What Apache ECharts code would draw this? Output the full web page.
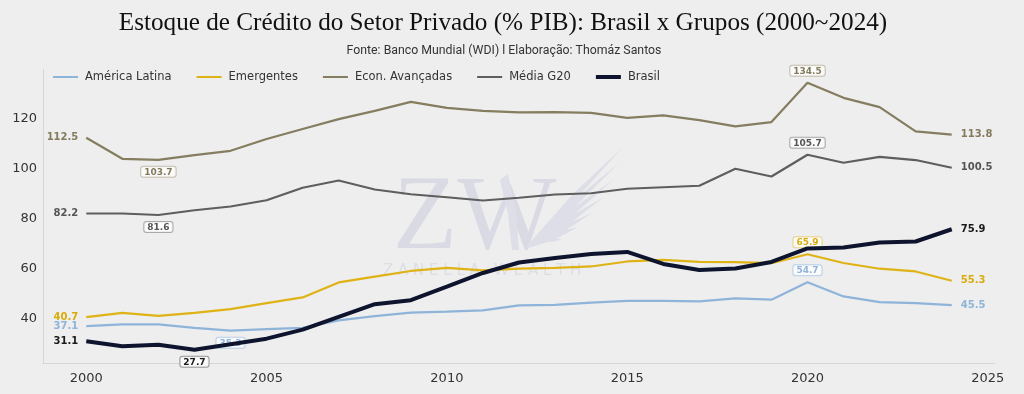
<!DOCTYPE html>
<html>
<head>
<meta charset="utf-8">
<script src="https://cdn.jsdelivr.net/npm/echarts@6/dist/echarts.min.js"></script>
<style>
html,body{margin:0;padding:0;background:#eeeeee;}
#c{width:1024px;height:394px;}
</style>
</head>
<body>
<div id="c"></div>
<script>
const years = [2000,2001,2002,2003,2004,2005,2006,2007,2008,2009,2010,2011,2012,2013,2014,2015,2016,2017,2018,2019,2020,2021,2022,2023,2024];
const americaLatina = [37.1,37.8,37.8,36.4,35.3,35.9,36.4,39.4,41.1,42.5,42.9,43.4,45.4,45.6,46.5,47.2,47.2,47.0,48.2,47.7,54.7,49.0,46.7,46.3,45.5];
const emergentes = [40.7,42.4,41.2,42.4,43.9,46.3,48.6,54.6,56.9,59.2,60.4,59.4,60.1,60.4,61.0,63.0,63.6,62.8,62.7,62.3,65.9,62.4,60.1,59.0,55.3];
const avancadas = [112.5,104.1,103.7,105.6,107.3,112.0,116.0,120.0,123.3,126.9,124.5,123.3,122.7,122.8,122.5,120.5,121.5,119.6,117.1,118.8,134.5,128.5,124.8,115.1,113.8];
const mediaG20 = [82.2,82.2,81.6,83.5,85.0,87.5,92.5,95.4,91.8,89.9,88.7,87.4,88.5,89.8,90.3,92.1,92.7,93.3,100.1,97.0,105.7,102.5,104.9,103.6,100.5];
const brasil = [31.1,29.1,29.7,27.7,29.9,32.1,35.7,40.8,45.9,47.5,52.9,58.4,62.6,64.4,66.0,66.8,62.0,59.6,60.2,62.8,68.2,68.6,70.6,71.0,75.9];
const seriesNames = ['América Latina','Emergentes','Econ. Avançadas','Média G20','Brasil'];
const xTicks = [2000,2005,2010,2015,2020,2025];
const yTicks = [40,60,80,100,120];

const colors = ['#8fb4d9','#dfb215','#857d5f','#5e5e5e','#0e142d'];
const labelColors = ['#8fb4d9','#d9ab0c','#847b5c','#555555','#1a1a1a'];
const boxBorders = ['#b9cfe6','#e8d28a','#c4bfae','#aaaaaa','#999999'];
const widths = [2.2,2.2,2.2,2.2,4];
const allData = [americaLatina, emergentes, avancadas, mediaG20, brasil];

const allVals = allData.flat();
const vMin = Math.min(...allVals), vMax = Math.max(...allVals);
const pad = (vMax - vMin) * 0.05;
const xPad = (years[years.length-1] - years[0]) * 0.05;

function buildData(vals, color, border) {
  let iMin = 0, iMax = 0;
  vals.forEach((v,i)=>{ if (v < vals[iMin]) iMin = i; if (v > vals[iMax]) iMax = i; });
  const last = vals.length - 1;
  return vals.map((v,i)=>{
    const item = { value: [years[i], v] };
    if (i === 0) {
      item.label = { show:true, position:'left', distance:8, formatter: v.toFixed(1),
        color: color, fontSize:10, fontWeight:'bold', fontFamily:'DejaVu Sans' };
    } else if (i === last) {
      item.label = { show:true, position:'right', distance:9, formatter: v.toFixed(1),
        color: color, fontSize:10, fontWeight:'bold', fontFamily:'DejaVu Sans' };
    } else if (i === iMin || i === iMax) {
      item.label = { show:true, position: i === iMax ? 'top' : 'bottom', distance:7,
        formatter: v.toFixed(1), color: color, fontSize:9, fontWeight:'bold', fontFamily:'DejaVu Sans',
        backgroundColor:'rgba(255,255,255,0.8)', borderColor: border, borderWidth:1,
        borderRadius:2, padding:[1,3,0,3] };
    } else {
      item.label = { show:false };
    }
    return item;
  });
}

// watermark wing: fan of thin feathers
const wingBase = [528, 246];
const wingTips = [[623,147],[619,163],[613,180],[604,197],[592,213],[578,227],[562,239]];
const wingPolys = wingTips.map((t,i)=>{
  const bx = wingBase[0] + i*3, by = wingBase[1] - i*1;
  return [[bx-2,by+1],[ (bx+t[0])/2 - 3, (by+t[1])/2 - 2 ], t, [ (bx+t[0])/2 + 1, (by+t[1])/2 + 2 ], [bx+2,by+2]];
});
wingPolys.push([[500,180],[508,174],[516,212],[519,250],[512,250],[508,214]]);

const chart = echarts.init(document.getElementById('c'), null, {renderer:'canvas'});
chart.setOption({
  backgroundColor:'#eeeeee',
  animation:false,
  title:[
    { text:'Estoque de Crédito do Setor Privado (% PIB): Brasil x Grupos (2000~2024)',
      left:498, top:6, textAlign:'center',
      textStyle:{ fontFamily:'Liberation Serif', fontSize:25.2, fontWeight:'normal', color:'#111111' } },
    { text:'Fonte: Banco Mundial (WDI) l Elaboração: Thomáz Santos',
      left:499, top:40, textAlign:'center',
      textStyle:{ fontFamily:'Liberation Sans Narrow, Roboto', fontSize:12.3, fontWeight:'normal', color:'#333333' } }
  ],
  graphic:[
    { type:'text', left:393, top:168, z:-1, silent:true,
      style:{ text:'ZW', font:'105px "Liberation Serif"', fill:'#d9dae3' } }
  ].concat(wingPolys.map(p=>({ type:'polygon', z:-1, silent:true,
      shape:{ points:p }, style:{ fill:'#dddee7' } })))
   .concat([{ type:'text', left:383, top:264, z:-1, silent:true,
      style:{ text:'Z A N E L L A   W E A L T H', font:'15px "DejaVu Sans"', fill:'#dcdde5' } }]),
  legend:{
    data: seriesNames.map((n,k)=>({ name:n,
      icon: k === 4 ? 'path://M0,0H25V4H0Z' : 'path://M0,0H25V2H0Z' })),
    left:48, top:66, itemWidth:25, itemHeight:14, itemGap:25,
    textStyle:{ fontFamily:'DejaVu Sans', fontSize:11.5, color:'#333333', padding:[0,0,0,2] }
  },
  grid:{ left:43, right:29, top:69.5, bottom:31, outerBoundsMode:'none', containLabel:false },
  xAxis:{
    type:'value', min: years[0]-xPad, max: years[years.length-1]+xPad,
    axisLine:{ show:true, lineStyle:{ color:'#d6d6d6', width:1 } },
    axisTick:{ show:false },
    splitLine:{ show:false },
    axisLabel:{ customValues: xTicks, formatter: v => String(Math.round(v)),
      fontFamily:'DejaVu Sans', fontSize:13, color:'#333333', margin:9 }
  },
  yAxis:{
    type:'value', min: vMin-pad, max: vMax+pad,
    axisLine:{ show:true, lineStyle:{ color:'#d6d6d6', width:1 } },
    axisTick:{ show:false },
    splitLine:{ show:false },
    axisLabel:{ customValues: yTicks, formatter: v => String(Math.round(v)),
      fontFamily:'DejaVu Sans', fontSize:13, color:'#333333', margin:6 }
  },
  series: allData.map((vals, k)=>({
    name: seriesNames[k], type:'line', symbol:'circle', symbolSize:0, showSymbol:true,
    z: 2 + k,
    lineStyle:{ color: colors[k], width: widths[k] },
    itemStyle:{ color: colors[k] },
    data: buildData(vals, labelColors[k], boxBorders[k]),
    labelLayout:{ hideOverlap:false }
  }))
});
</script>
</body>
</html>
